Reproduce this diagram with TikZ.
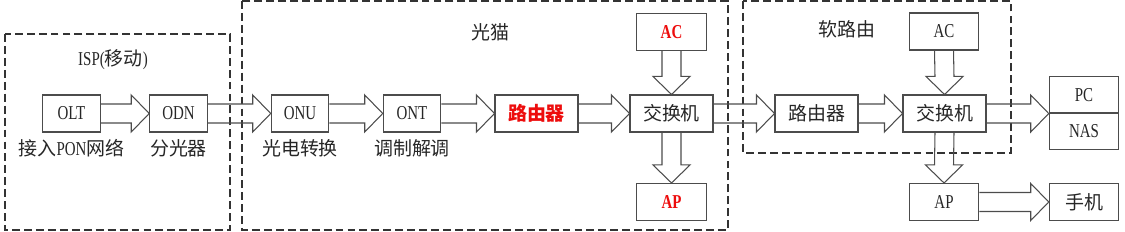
\documentclass[tikz,border=0pt]{standalone}
\usepackage{fontspec}
\setmainfont{Liberation Serif}[FakeStretch=0.76]
\newfontfamily\cjk{Noto Sans CJK SC}
\usetikzlibrary{calc}
\definecolor{edgegray}{rgb}{0.3,0.3,0.3}
\definecolor{textgray}{rgb}{0.15,0.15,0.15}
\definecolor{routerred}{rgb}{0.93,0.05,0.05}

% block arrows: shaft 19, head 37 wide and 18 long (picture units)
\newcommand{\rightblock}[2]{%
  \draw[blockarrow] ($(#1.east)+(0,-9.5)$) -- ($(#2.west)+(-18,-9.5)$) -- ($(#2.west)+(-18,-18.5)$)
    -- (#2.west) -- ($(#2.west)+(-18,18.5)$) -- ($(#2.west)+(-18,9.5)$) -- ($(#1.east)+(0,9.5)$);}
\newcommand{\downblock}[2]{%
  \draw[blockarrow] ($(#1.south)+(-9.5,0)$) -- ($(#2.north)+(-9.5,-18)$) -- ($(#2.north)+(-18.5,-18)$)
    -- (#2.north) -- ($(#2.north)+(18.5,-18)$) -- ($(#2.north)+(9.5,-18)$) -- ($(#1.south)+(9.5,0)$);}

\begin{document}
\begin{tikzpicture}[x = 0.02cm, y = -0.02cm,
    box/.style={draw=edgegray, line width=0.6pt, minimum height=0.74cm, inner sep=0pt,
      text=textgray, font=\fontsize{11.2}{12}\selectfont},
    narrow/.style={box, minimum width=1.15cm},
    wide/.style={box, minimum width=1.66cm},
    side/.style={box, minimum width=1.39cm},
    redtext/.style={text=routerred, font=\fontsize{11.2}{12}\selectfont\bfseries},
    caption/.style={text=textgray, font=\fontsize{10.8}{13}\selectfont\cjk},
    blockarrow/.style={draw=edgegray, line width=0.6pt, line join=miter},
    group/.style={draw=black!80, line width=0.7pt, dash pattern=on 4.5pt off 2.3pt}]

    \useasboundingbox (0,0) rectangle (1125,232);

    % dashed groups
    \draw[group] (5,34) rectangle (230,230);
    \draw[group] (242,1) rectangle (728,230);
    \draw[group] (743,1) rectangle (1011,153);

    \node[caption] (isp) at (113,60) {\rmfamily\fontsize{11.2}{13}\selectfont ISP({\cjk\fontsize{10.8}{13}\selectfont 移动})};
    \node[caption] (modem) at (490,32) {光猫};
    \node[caption] (softrouter) at (847,29) {软路由};

    % main row
    \node[narrow] (olt) at (71.5,113.5) {OLT};
    \node[narrow] (odn) at (178.5,113.5) {ODN};
    \node[narrow] (onu) at (300,113.5) {ONU};
    \node[narrow] (ont) at (412,113.5) {ONT};
    \node[wide, redtext] (router1) at (536.5,113.5) {\cjk\fontsize{10.8}{12}\selectfont 路由器};
    \node[wide] (switch1) at (671.5,113.5) {\cjk\fontsize{10.8}{12}\selectfont 交换机};
    \node[wide] (router2) at (816.5,113.5) {\cjk\fontsize{10.8}{12}\selectfont 路由器};
    \node[wide] (switch2) at (944.5,113.5) {\cjk\fontsize{10.8}{12}\selectfont 交换机};

    \node[side, redtext] (ac1) at (671.5,32) {AC};
    \node[side, redtext] (ap1) at (671.5,202) {AP};
    \node[side] (ac2) at (944,31.5) {AC};
    \node[side] (ap2) at (944,202) {AP};

    \node[side, minimum height=0.73cm] (pc) at (1084,94.75) {PC};
    \node[side, minimum height=0.73cm] (nas) at (1084,131.25) {NAS};
    \node[side] (phone) at (1084,202) {\cjk\fontsize{10.8}{12}\selectfont 手机};

    % captions under the boxes
    \node[caption] (oltcap) at (71.5,148) {接入{\rmfamily\fontsize{11.2}{13}\selectfont PON}网络};
    \node[caption] (odncap) at (178.5,148) {分光器};
    \node[caption] (onucap) at (300,148) {光电转换};
    \node[caption] (ontcap) at (412,148) {调制解调};

    \rightblock{olt}{odn}
    \rightblock{odn}{onu}
    \rightblock{onu}{ont}
    \rightblock{ont}{router1}
    \rightblock{router1}{switch1}
    \rightblock{switch1}{router2}
    \rightblock{router2}{switch2}
    \rightblock{ap2}{phone}
    \draw[blockarrow] ($(switch2.east)+(0,-9.5)$) -- ($(pc.south west)+(-18,-9.5)$) -- ($(pc.south west)+(-18,-18.5)$)
      -- (pc.south west) -- ($(pc.south west)+(-18,18.5)$) -- ($(pc.south west)+(-18,9.5)$) -- ($(switch2.east)+(0,9.5)$);

    \downblock{ac1}{switch1}
    \downblock{switch1}{ap1}
    \downblock{ac2}{switch2}
    \downblock{switch2}{ap2}

\end{tikzpicture}
\end{document}
